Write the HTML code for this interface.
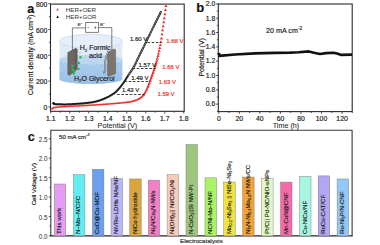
<!DOCTYPE html>
<html><head><meta charset="utf-8"><style>html,body{margin:0;padding:0;background:#fff;width:380px;height:245px;overflow:hidden}svg{display:block}</style></head>
<body><svg width="380" height="245" viewBox="0 0 380 245" font-family="Liberation Sans, sans-serif"><rect x="50.5" y="4.1" width="133.7" height="107.2" fill="none" stroke="#2a2a2a" stroke-width="1.1"/><line x1="50.80" y1="111.3" x2="50.80" y2="113.5" stroke="#222" stroke-width="0.8"/><line x1="60.30" y1="111.3" x2="60.30" y2="112.7" stroke="#222" stroke-width="0.8"/><line x1="69.79" y1="111.3" x2="69.79" y2="113.5" stroke="#222" stroke-width="0.8"/><line x1="79.28" y1="111.3" x2="79.28" y2="112.7" stroke="#222" stroke-width="0.8"/><line x1="88.78" y1="111.3" x2="88.78" y2="113.5" stroke="#222" stroke-width="0.8"/><line x1="98.28" y1="111.3" x2="98.28" y2="112.7" stroke="#222" stroke-width="0.8"/><line x1="107.77" y1="111.3" x2="107.77" y2="113.5" stroke="#222" stroke-width="0.8"/><line x1="117.27" y1="111.3" x2="117.27" y2="112.7" stroke="#222" stroke-width="0.8"/><line x1="126.76" y1="111.3" x2="126.76" y2="113.5" stroke="#222" stroke-width="0.8"/><line x1="136.25" y1="111.3" x2="136.25" y2="112.7" stroke="#222" stroke-width="0.8"/><line x1="145.75" y1="111.3" x2="145.75" y2="113.5" stroke="#222" stroke-width="0.8"/><line x1="155.25" y1="111.3" x2="155.25" y2="112.7" stroke="#222" stroke-width="0.8"/><line x1="164.74" y1="111.3" x2="164.74" y2="113.5" stroke="#222" stroke-width="0.8"/><line x1="174.23" y1="111.3" x2="174.23" y2="112.7" stroke="#222" stroke-width="0.8"/><line x1="183.73" y1="111.3" x2="183.73" y2="113.5" stroke="#222" stroke-width="0.8"/><text x="50.80" y="121.1" font-size="6.8" text-anchor="middle" fill="#222" stroke="#222" stroke-width="0.18" >1.1</text><text x="69.79" y="121.1" font-size="6.8" text-anchor="middle" fill="#222" stroke="#222" stroke-width="0.18" >1.2</text><text x="88.78" y="121.1" font-size="6.8" text-anchor="middle" fill="#222" stroke="#222" stroke-width="0.18" >1.3</text><text x="107.77" y="121.1" font-size="6.8" text-anchor="middle" fill="#222" stroke="#222" stroke-width="0.18" >1.4</text><text x="126.76" y="121.1" font-size="6.8" text-anchor="middle" fill="#222" stroke="#222" stroke-width="0.18" >1.5</text><text x="145.75" y="121.1" font-size="6.8" text-anchor="middle" fill="#222" stroke="#222" stroke-width="0.18" >1.6</text><text x="164.74" y="121.1" font-size="6.8" text-anchor="middle" fill="#222" stroke="#222" stroke-width="0.18" >1.7</text><text x="183.73" y="121.1" font-size="6.8" text-anchor="middle" fill="#222" stroke="#222" stroke-width="0.18" >1.8</text><line x1="50.5" y1="106.90" x2="48.3" y2="106.90" stroke="#222" stroke-width="0.8"/><line x1="50.5" y1="94.00" x2="49.1" y2="94.00" stroke="#222" stroke-width="0.8"/><line x1="50.5" y1="81.10" x2="48.3" y2="81.10" stroke="#222" stroke-width="0.8"/><line x1="50.5" y1="68.20" x2="49.1" y2="68.20" stroke="#222" stroke-width="0.8"/><line x1="50.5" y1="55.30" x2="48.3" y2="55.30" stroke="#222" stroke-width="0.8"/><line x1="50.5" y1="42.40" x2="49.1" y2="42.40" stroke="#222" stroke-width="0.8"/><line x1="50.5" y1="29.50" x2="48.3" y2="29.50" stroke="#222" stroke-width="0.8"/><line x1="50.5" y1="16.60" x2="49.1" y2="16.60" stroke="#222" stroke-width="0.8"/><line x1="50.5" y1="3.70" x2="48.3" y2="3.70" stroke="#222" stroke-width="0.8"/><text x="47.3" y="110.10" font-size="6.8" text-anchor="end" fill="#222" stroke="#222" stroke-width="0.18" >0</text><text x="47.3" y="84.30" font-size="6.8" text-anchor="end" fill="#222" stroke="#222" stroke-width="0.18" >200</text><text x="47.3" y="58.50" font-size="6.8" text-anchor="end" fill="#222" stroke="#222" stroke-width="0.18" >400</text><text x="47.3" y="32.70" font-size="6.8" text-anchor="end" fill="#222" stroke="#222" stroke-width="0.18" >600</text><text x="47.3" y="6.90" font-size="6.8" text-anchor="end" fill="#222" stroke="#222" stroke-width="0.18" >800</text><text x="117.4" y="127.6" font-size="7.2" text-anchor="middle" fill="#2a2a2a" stroke="#2a2a2a" stroke-width="0.08" >Potential (V)</text><text transform="translate(33.4,54.9) rotate(-90)" font-size="7.1" text-anchor="middle" fill="#222" stroke="#222" stroke-width="0.18" >Current density (mA cm<tspan font-size="4.6" dy="-2.5">-2</tspan><tspan dy="2.5">)</tspan></text><text x="27.3" y="12.8" font-size="12.5" text-anchor="start" fill="#111" stroke="#111" stroke-width="0.18" font-weight="bold">a</text><path d="M56.3,10.6 L57.6,8.3 L58.9,10.6 Z" fill="#f0302a"/><text x="65.8" y="11.8" font-size="6.2" fill="#333">HER+OER</text><path d="M56.3,17.9 L57.6,15.6 L58.9,17.9 Z" fill="#111"/><text x="65.8" y="19.1" font-size="6.2" fill="#333">HER+GOR</text><defs><linearGradient id="liq" x1="0" y1="0" x2="0" y2="1"><stop offset="0" stop-color="#accdee"/><stop offset="1" stop-color="#9bc1e8"/></linearGradient><linearGradient id="top" x1="0" y1="0" x2="0" y2="1"><stop offset="0" stop-color="#e2edf8"/><stop offset="1" stop-color="#d5e5f4"/></linearGradient></defs><path d="M59.50000000000001,41.3 L59.50000000000001,79.2 A31.4,4.8 0 0 0 122.30000000000001,79.2 L122.30000000000001,41.3 Z" fill="url(#top)"/><ellipse cx="90.9" cy="41.3" rx="31.4" ry="7.0" fill="#e6eff9" stroke="#c6daee" stroke-width="0.7"/><path d="M59.50000000000001,59.6 L59.50000000000001,79.2 A31.4,4.8 0 0 0 122.30000000000001,79.2 L122.30000000000001,59.6 A31.4,4.6 0 0 1 59.50000000000001,59.6 Z" fill="url(#liq)"/><ellipse cx="90.9" cy="59.6" rx="31.4" ry="4.6" fill="#bcd6f0"/><path d="M72.4,50 L72.4,27.9 L85.7,27.9 M98.6,27.6 L111.8,27.6 L111.8,50" fill="none" stroke="#555" stroke-width="0.75"/><rect x="85.7" y="22.6" width="12.9" height="9.7" fill="#fff" stroke="#555" stroke-width="0.75"/><path d="M87.3,27.6 h1.6 M94.2,27.6 h2.4 M95.4,26.4 v2.4" stroke="#444" stroke-width="0.6"/><text x="77.4" y="25.8" font-size="5.8" fill="#333" stroke="#333" stroke-width="0.1">e<tspan font-size="3.8" dy="-2.2">-</tspan></text><text x="100.1" y="25.8" font-size="5.8" fill="#333" stroke="#333" stroke-width="0.1">e<tspan font-size="3.8" dy="-2.2">-</tspan></text><path d="M67.8,52.6 L75.6,48.3 L77.3,49.2 L77.3,69.3 L69.6,75.3 L67.8,74.6 Z" fill="#6e6761" stroke="#4a4541" stroke-width="0.45"/><path d="M75.7,48.6 L75.7,69.8" fill="none" stroke="#4a4541" stroke-width="0.5"/><path d="M77,53.8 Q79.5,53.2 81,52.2" fill="none" stroke="#c9ced4" stroke-width="1.1"/><path d="M77,69.2 Q79.8,70.5 80.8,72.8" fill="none" stroke="#c9ced4" stroke-width="1.1"/><path d="M107.6,52.2 L114,49 L115.6,49.8 L115.6,73.5 L109.2,76.2 L107.6,75.4 Z" fill="#7d746c" stroke="#57504a" stroke-width="0.45"/><path d="M108.4,50.8 Q103.8,61 105.4,69.5 Q105,72 103.4,73.2" fill="none" stroke="#4e545c" stroke-width="1.7"/><path d="M108.4,50.8 Q103.8,61 105.4,69.5 Q105,72 103.4,73.2" fill="none" stroke="#c8d0d8" stroke-width="0.9"/><circle cx="80.4" cy="57.2" r="1.3" fill="#1dc25a"/><circle cx="78.9" cy="63.1" r="1.3" fill="#1dc25a"/><circle cx="72.3" cy="66.1" r="1.3" fill="#1dc25a"/><circle cx="78.5" cy="69" r="1.3" fill="#1dc25a"/><circle cx="73" cy="70" r="1.3" fill="#1dc25a"/><circle cx="73.8" cy="73.4" r="1.3" fill="#1dc25a"/><text x="79.7" y="50.1" font-size="7" text-anchor="start" fill="#222" stroke="#222" stroke-width="0.18" >H<tspan font-size="4.4" dy="1.5">2</tspan><tspan dy="-1.5"> Formic</tspan></text><text x="95.4" y="58.2" font-size="7" text-anchor="middle" fill="#222" stroke="#222" stroke-width="0.18" >acid</text><text x="74" y="80.7" font-size="7" text-anchor="start" fill="#222" stroke="#222" stroke-width="0.18" >H<tspan font-size="4.4" dy="1.5">2</tspan><tspan dy="-1.5">O Glycerol</tspan></text><path d="M50.32,109.78L51.43,107.84L52.54,109.78ZM50.88,109.43L52.00,107.48L53.12,109.43ZM51.46,109.06L52.57,107.12L53.68,109.06ZM52.05,108.72L53.14,106.82L54.23,108.72ZM52.66,108.46L53.71,106.62L54.76,108.46ZM53.25,108.32L54.28,106.52L55.31,108.32ZM53.83,108.22L54.85,106.43L55.87,108.22ZM54.40,108.13L55.42,106.34L56.44,108.13ZM54.97,108.05L55.99,106.27L57.01,108.05ZM55.55,107.97L56.56,106.20L57.57,107.97ZM56.12,107.91L57.13,106.14L58.14,107.91ZM56.69,107.85L57.70,106.08L58.71,107.85ZM57.26,107.80L58.27,106.03L59.28,107.80ZM57.83,107.75L58.84,105.98L59.85,107.75ZM58.40,107.70L59.41,105.94L60.42,107.70ZM58.97,107.66L59.98,105.90L60.99,107.66ZM59.54,107.61L60.55,105.85L61.56,107.61ZM60.11,107.57L61.12,105.81L62.13,107.57ZM60.68,107.53L61.69,105.77L62.70,107.53ZM61.26,107.49L62.26,105.74L63.26,107.49ZM61.83,107.46L62.83,105.70L63.83,107.46ZM62.40,107.42L63.40,105.66L64.40,107.42ZM62.97,107.39L63.97,105.63L64.97,107.39ZM63.54,107.35L64.54,105.60L65.54,107.35ZM64.11,107.32L65.11,105.56L66.11,107.32ZM64.68,107.28L65.68,105.53L66.68,107.28ZM65.25,107.25L66.25,105.50L67.25,107.25ZM65.82,107.22L66.82,105.47L67.82,107.22ZM66.39,107.19L67.39,105.44L68.39,107.19ZM66.96,107.16L67.96,105.41L68.96,107.16ZM67.53,107.13L68.53,105.38L69.53,107.13ZM68.10,107.10L69.10,105.35L70.10,107.10ZM68.67,107.07L69.67,105.32L70.67,107.07ZM69.24,107.05L70.24,105.29L71.24,107.05ZM69.81,107.02L70.81,105.27L71.81,107.02ZM70.38,106.99L71.38,105.24L72.38,106.99ZM70.95,106.96L71.95,105.21L72.95,106.96ZM71.52,106.93L72.52,105.18L73.52,106.93ZM72.09,106.91L73.09,105.15L74.09,106.91ZM72.66,106.88L73.66,105.13L74.66,106.88ZM73.23,106.85L74.23,105.10L75.23,106.85ZM73.80,106.82L74.80,105.07L75.80,106.82ZM74.37,106.80L75.37,105.04L76.37,106.80ZM74.94,106.77L75.94,105.01L76.94,106.77ZM75.51,106.74L76.51,104.99L77.51,106.74ZM76.08,106.71L77.08,104.96L78.08,106.71ZM76.65,106.68L77.65,104.93L78.65,106.68ZM77.22,106.65L78.22,104.90L79.22,106.65ZM77.79,106.62L78.79,104.87L79.79,106.62ZM78.36,106.59L79.36,104.83L80.36,106.59ZM78.93,106.56L79.93,104.80L80.93,106.56ZM79.50,106.52L80.50,104.77L81.50,106.52ZM80.07,106.49L81.07,104.74L82.07,106.49ZM80.64,106.46L81.64,104.70L82.64,106.46ZM81.21,106.43L82.21,104.67L83.21,106.43ZM81.78,106.39L82.78,104.64L83.78,106.39ZM82.35,106.36L83.35,104.61L84.35,106.36ZM82.92,106.33L83.92,104.57L84.92,106.33ZM83.49,106.30L84.49,104.54L85.49,106.30ZM84.06,106.26L85.06,104.51L86.06,106.26ZM84.63,106.23L85.63,104.48L86.63,106.23ZM85.20,106.20L86.20,104.44L87.20,106.20ZM85.77,106.17L86.77,104.41L87.77,106.17ZM86.34,106.13L87.34,104.38L88.34,106.13ZM86.91,106.10L87.91,104.35L88.91,106.10ZM87.48,106.07L88.48,104.31L89.48,106.07ZM88.05,106.04L89.05,104.28L90.05,106.04ZM88.62,106.00L89.62,104.25L90.62,106.00ZM89.19,105.97L90.19,104.21L91.19,105.97ZM89.76,105.94L90.76,104.18L91.76,105.94ZM90.33,105.90L91.33,104.15L92.33,105.90ZM90.90,105.87L91.90,104.11L92.90,105.87ZM91.47,105.83L92.47,104.08L93.47,105.83ZM92.04,105.80L93.04,104.04L94.04,105.80ZM92.61,105.77L93.61,104.01L94.61,105.77ZM93.18,105.73L94.18,103.97L95.18,105.73ZM93.75,105.70L94.75,103.94L95.75,105.70ZM94.32,105.66L95.32,103.90L96.32,105.66ZM94.89,105.62L95.89,103.87L96.89,105.62ZM95.46,105.59L96.46,103.83L97.46,105.59ZM96.03,105.55L97.03,103.79L98.03,105.55ZM96.60,105.51L97.60,103.76L98.60,105.51ZM97.17,105.48L98.17,103.72L99.17,105.48ZM97.74,105.44L98.74,103.68L99.74,105.44ZM98.31,105.40L99.31,103.64L100.31,105.40ZM98.87,105.36L99.88,103.60L100.89,105.36ZM99.44,105.32L100.45,103.56L101.46,105.32ZM100.01,105.28L101.02,103.52L102.03,105.28ZM100.58,105.24L101.59,103.48L102.60,105.24ZM101.15,105.20L102.16,103.44L103.17,105.20ZM101.72,105.16L102.73,103.40L103.74,105.16ZM102.29,105.12L103.30,103.36L104.31,105.12ZM102.86,105.08L103.87,103.32L104.88,105.08ZM103.43,105.04L104.44,103.28L105.45,105.04ZM104.00,105.00L105.01,103.24L106.02,105.00ZM104.57,104.96L105.58,103.20L106.59,104.96ZM105.14,104.92L106.15,103.16L107.16,104.92ZM105.71,104.88L106.72,103.11L107.73,104.88ZM106.28,104.83L107.29,103.07L108.30,104.83ZM106.85,104.79L107.86,103.03L108.87,104.79ZM107.42,104.75L108.43,102.98L109.44,104.75ZM107.99,104.70L109.00,102.94L110.01,104.70ZM108.56,104.66L109.57,102.90L110.58,104.66ZM109.13,104.61L110.14,102.85L111.15,104.61ZM109.70,104.57L110.71,102.80L111.72,104.57ZM110.27,104.52L111.28,102.76L112.29,104.52ZM110.84,104.48L111.85,102.71L112.86,104.48ZM111.41,104.43L112.42,102.67L113.43,104.43ZM111.98,104.38L112.99,102.62L114.00,104.38ZM112.55,104.33L113.56,102.57L114.57,104.33ZM113.12,104.29L114.13,102.52L115.14,104.29ZM113.69,104.24L114.70,102.47L115.71,104.24ZM114.26,104.19L115.27,102.42L116.28,104.19ZM114.83,104.14L115.84,102.37L116.85,104.14ZM115.40,104.09L116.41,102.32L117.42,104.09ZM115.97,104.04L116.98,102.27L117.99,104.04ZM116.54,103.99L117.55,102.22L118.56,103.99ZM117.11,103.93L118.12,102.17L119.13,103.93ZM117.68,103.88L118.69,102.11L119.70,103.88ZM118.25,103.83L119.26,102.06L120.27,103.83ZM118.82,103.77L119.83,102.01L120.84,103.77ZM119.39,103.72L120.40,101.95L121.41,103.72ZM119.96,103.66L120.97,101.90L121.98,103.66ZM120.53,103.61L121.54,101.84L122.55,103.61ZM121.10,103.55L122.11,101.79L123.12,103.55ZM121.67,103.50L122.68,101.73L123.69,103.50ZM122.24,103.44L123.25,101.67L124.26,103.44ZM122.81,103.38L123.82,101.61L124.83,103.38ZM123.38,103.32L124.39,101.55L125.40,103.32ZM123.95,103.26L124.96,101.49L125.97,103.26ZM124.52,103.19L125.53,101.42L126.54,103.19ZM125.08,103.13L126.10,101.35L127.12,103.13ZM125.65,103.06L126.67,101.28L127.69,103.06ZM126.22,102.98L127.24,101.20L128.26,102.98ZM126.79,102.90L127.81,101.12L128.83,102.90ZM127.36,102.82L128.38,101.04L129.40,102.82ZM127.93,102.74L128.95,100.95L129.97,102.74ZM128.50,102.65L129.52,100.86L130.54,102.65ZM129.06,102.55L130.09,100.76L131.12,102.55ZM129.63,102.45L130.66,100.65L131.69,102.45ZM130.20,102.33L131.23,100.52L132.26,102.33ZM130.76,102.21L131.80,100.39L132.84,102.21ZM131.33,102.06L132.37,100.24L133.41,102.06ZM131.89,101.91L132.94,100.08L133.99,101.91ZM132.46,101.75L133.51,99.91L134.56,101.75ZM133.03,101.57L134.08,99.72L135.13,101.57ZM133.59,101.38L134.65,99.53L135.71,101.38ZM134.16,101.18L135.22,99.33L136.28,101.18ZM134.73,100.98L135.79,99.11L136.85,100.98ZM135.29,100.76L136.36,98.89L137.43,100.76ZM135.86,100.53L136.93,98.66L138.00,100.53ZM136.42,100.29L137.50,98.40L138.58,100.29ZM136.98,100.02L138.07,98.11L139.16,100.02ZM137.54,99.71L138.64,97.78L139.74,99.71ZM138.10,99.37L139.21,97.42L140.32,99.37ZM138.66,99.00L139.78,97.03L140.90,99.00ZM139.22,98.60L140.35,96.61L141.48,98.60ZM139.78,98.17L140.92,96.17L142.06,98.17ZM140.34,97.71L141.49,95.69L142.64,97.71ZM140.89,97.22L142.06,95.17L143.23,97.22ZM141.42,96.66L142.63,94.54L143.84,96.66ZM141.95,95.97L143.20,93.79L144.45,95.97ZM142.49,95.19L143.77,92.95L145.05,95.19ZM143.05,94.32L144.34,92.06L145.63,94.32ZM143.61,93.42L144.91,91.14L146.21,93.42ZM144.16,92.49L145.48,90.17L146.80,92.49ZM144.70,91.48L146.05,89.12L147.40,91.48ZM145.24,90.40L146.62,87.99L148.00,90.40ZM145.79,89.24L147.19,86.79L148.59,89.24ZM146.34,88.01L147.76,85.52L149.18,88.01ZM146.87,86.71L148.33,84.15L149.79,86.71ZM147.39,85.27L148.90,82.63L150.41,85.27ZM147.93,83.71L149.47,81.02L151.01,83.71ZM148.49,82.08L150.04,79.36L151.59,82.08ZM149.06,80.41L150.61,77.70L152.16,80.41ZM149.65,78.77L151.18,76.08L152.71,78.77ZM150.23,77.18L151.75,74.52L153.27,77.18ZM150.81,75.63L152.32,72.99L153.83,75.63ZM151.38,74.10L152.89,71.46L154.40,74.10ZM151.93,72.55L153.46,69.88L154.99,72.55ZM152.48,70.96L154.03,68.24L155.58,70.96ZM153.03,69.27L154.60,66.53L156.17,69.27ZM153.60,67.51L155.17,64.77L156.74,67.51ZM154.17,65.68L155.74,62.94L157.31,65.68ZM154.74,63.74L156.31,60.99L157.88,63.74ZM155.31,61.64L156.88,58.90L158.45,61.64ZM155.88,59.38L157.45,56.63L159.02,59.38ZM156.45,56.99L158.02,54.25L159.59,56.99ZM157.02,54.47L158.59,51.73L160.16,54.47ZM157.59,51.82L159.16,49.08L160.73,51.82ZM158.16,49.03L159.73,46.28L161.30,49.03ZM158.73,46.08L160.30,43.34L161.87,46.08ZM159.30,42.98L160.87,40.24L162.44,42.98ZM159.87,39.39L161.44,36.64L163.01,39.39ZM160.44,35.37L162.01,32.63L163.58,35.37ZM161.01,31.31L162.58,28.57L164.15,31.31ZM161.58,27.34L163.15,24.60L164.72,27.34ZM162.15,23.31L163.72,20.57L165.29,23.31ZM162.72,19.25L164.29,16.50L165.86,19.25ZM163.29,15.15L164.86,12.40L166.43,15.15ZM163.86,11.01L165.43,8.27L167.00,11.01ZM164.43,6.88L166.00,4.13L167.57,6.88Z" fill="#f0302a"/><path d="M53.20,103.60 L53.45,103.66 L53.70,103.72 L53.95,103.79 L54.20,103.85 L54.45,103.92 L54.70,103.99 L54.95,104.05 L55.20,104.10 L55.45,104.14 L55.70,104.18 L55.95,104.20 L56.20,104.21 L56.45,104.22 L56.70,104.23 L56.95,104.24 L57.20,104.25 L57.45,104.25 L57.70,104.26 L57.95,104.27 L58.20,104.28 L58.45,104.29 L58.70,104.30 L58.95,104.30 L59.20,104.31 L59.45,104.32 L59.70,104.33 L59.95,104.33 L60.20,104.34 L60.45,104.34 L60.70,104.35 L60.95,104.36 L61.20,104.36 L61.45,104.37 L61.70,104.37 L61.95,104.37 L62.20,104.38 L62.45,104.38 L62.70,104.39 L62.95,104.39 L63.20,104.39 L63.45,104.39 L63.70,104.40 L63.95,104.40 L64.20,104.40 L64.45,104.40 L64.70,104.40 L64.95,104.40 L65.20,104.40 L65.45,104.40 L65.70,104.40 L65.95,104.39 L66.20,104.39 L66.45,104.39 L66.70,104.38 L66.95,104.38 L67.20,104.37 L67.45,104.37 L67.70,104.36 L67.95,104.35 L68.20,104.34 L68.45,104.34 L68.70,104.33 L68.95,104.32 L69.20,104.31 L69.45,104.30 L69.70,104.29 L69.95,104.27 L70.20,104.26 L70.45,104.25 L70.70,104.24 L70.95,104.22 L71.20,104.21 L71.45,104.20 L71.70,104.18 L71.95,104.17 L72.20,104.15 L72.45,104.14 L72.70,104.12 L72.95,104.11 L73.20,104.09 L73.45,104.07 L73.70,104.06 L73.95,104.04 L74.20,104.02 L74.45,104.00 L74.70,103.99 L74.95,103.97 L75.20,103.95 L75.45,103.93 L75.70,103.92 L75.95,103.90 L76.20,103.88 L76.45,103.86 L76.70,103.84 L76.95,103.82 L77.20,103.81 L77.45,103.79 L77.70,103.77 L77.95,103.75 L78.20,103.73 L78.45,103.71 L78.70,103.69 L78.95,103.68 L79.20,103.66 L79.45,103.64 L79.70,103.62 L79.95,103.60 L80.20,103.59 L80.45,103.57 L80.70,103.55 L80.95,103.53 L81.20,103.51 L81.45,103.49 L81.70,103.47 L81.95,103.45 L82.20,103.43 L82.45,103.41 L82.70,103.39 L82.95,103.37 L83.20,103.34 L83.45,103.32 L83.70,103.30 L83.95,103.27 L84.20,103.25 L84.45,103.23 L84.70,103.20 L84.95,103.18 L85.20,103.15 L85.45,103.13 L85.70,103.10 L85.95,103.07 L86.20,103.05 L86.45,103.02 L86.70,102.99 L86.95,102.96 L87.20,102.94 L87.45,102.91 L87.70,102.88 L87.95,102.85 L88.20,102.82 L88.45,102.79 L88.70,102.76 L88.95,102.72 L89.20,102.69 L89.45,102.66 L89.70,102.63 L89.95,102.59 L90.20,102.56 L90.45,102.52 L90.70,102.49 L90.95,102.45 L91.20,102.42 L91.45,102.38 L91.70,102.34 L91.95,102.31 L92.20,102.27 L92.45,102.23 L92.70,102.19 L92.95,102.14 L93.20,102.10 L93.45,102.05 L93.70,102.00 L93.95,101.95 L94.20,101.89 L94.45,101.84 L94.70,101.78 L94.95,101.72 L95.20,101.66 L95.45,101.60 L95.70,101.54 L95.95,101.48 L96.20,101.41 L96.45,101.35 L96.70,101.28 L96.95,101.21 L97.20,101.14 L97.45,101.07 L97.70,101.00 L97.95,100.93 L98.20,100.85 L98.45,100.78 L98.70,100.70 L98.95,100.63 L99.20,100.55 L99.45,100.47 L99.70,100.39 L99.95,100.32 L100.20,100.24 L100.45,100.15 L100.70,100.07 L100.95,99.98 L101.20,99.90 L101.45,99.81 L101.70,99.72 L101.95,99.62 L102.20,99.53 L102.45,99.43 L102.70,99.33 L102.95,99.23 L103.20,99.13 L103.45,99.02 L103.70,98.92 L103.95,98.81 L104.20,98.70 L104.45,98.59 L104.70,98.48 L104.95,98.37 L105.20,98.25 L105.45,98.14 L105.70,98.02 L105.95,97.90 L106.20,97.78 L106.45,97.66 L106.70,97.54 L106.95,97.42 L107.20,97.30 L107.45,97.17 L107.70,97.05 L107.95,96.93 L108.20,96.80 L108.45,96.67 L108.70,96.54 L108.95,96.42 L109.20,96.28 L109.45,96.15 L109.70,96.01 L109.95,95.88 L110.20,95.74 L110.45,95.60 L110.70,95.45 L110.95,95.31 L111.20,95.16 L111.45,95.01 L111.70,94.86 L111.95,94.70 L112.20,94.54 L112.45,94.38 L112.70,94.22 L112.95,94.05 L113.20,93.88 L113.45,93.71 L113.70,93.53 L113.95,93.36 L114.20,93.17 L114.45,92.99 L114.70,92.80 L114.95,92.61 L115.20,92.40 L115.45,92.19 L115.70,91.97 L115.95,91.75 L116.20,91.52 L116.45,91.28 L116.70,91.04 L116.95,90.79 L117.20,90.54 L117.45,90.28 L117.70,90.01 L117.95,89.75 L118.20,89.47 L118.45,89.20 L118.70,88.92 L118.95,88.64 L119.20,88.36 L119.45,88.07 L119.70,87.78 L119.95,87.49 L120.20,87.19 L120.45,86.88 L120.70,86.57 L120.95,86.25 L121.20,85.93 L121.45,85.60 L121.70,85.26 L121.95,84.93 L122.20,84.58 L122.45,84.24 L122.70,83.89 L122.95,83.53 L123.20,83.18 L123.45,82.82 L123.70,82.46 L123.95,82.10 L124.20,81.74 L124.45,81.37 L124.70,81.01 L124.95,80.63 L125.20,80.25 L125.45,79.86 L125.70,79.47 L125.95,79.07 L126.20,78.66 L126.45,78.26 L126.70,77.85 L126.95,77.44 L127.20,77.04 L127.45,76.63 L127.70,76.23 L127.95,75.82 L128.20,75.43 L128.45,75.03 L128.70,74.65 L128.95,74.27 L129.20,73.89 L129.45,73.52 L129.70,73.16 L129.95,72.80 L130.20,72.44 L130.45,72.08 L130.70,71.72 L130.95,71.36 L131.20,71.00 L131.45,70.63 L131.70,70.26 L131.95,69.89 L132.20,69.51 L132.45,69.12 L132.70,68.73 L132.95,68.33 L133.20,67.91 L133.45,67.49 L133.70,67.05 L133.95,66.60 L134.20,66.14 L134.45,65.67 L134.70,65.19 L134.95,64.70 L135.20,64.20 L135.45,63.70 L135.70,63.19 L135.95,62.67 L136.20,62.15 L136.45,61.63 L136.70,61.10 L136.95,60.57 L137.20,60.04 L137.45,59.50 L137.70,58.97 L137.95,58.44 L138.20,57.91 L138.45,57.38 L138.70,56.85 L138.95,56.33 L139.20,55.81 L139.45,55.30 L139.70,54.80 L139.95,54.30 L140.20,53.79 L140.45,53.29 L140.70,52.79 L140.95,52.30 L141.20,51.80 L141.45,51.30 L141.70,50.80 L141.95,50.31 L142.20,49.81 L142.45,49.31 L142.70,48.82 L142.95,48.32 L143.20,47.82 L143.45,47.33 L143.70,46.83 L143.95,46.33 L144.20,45.83 L144.45,45.32 L144.70,44.82 L144.95,44.32 L145.20,43.81 L145.45,43.30 L145.70,42.79 L145.95,42.28 L146.20,41.76 L146.45,41.25 L146.70,40.73 L146.95,40.21 L147.20,39.69 L147.45,39.16 L147.70,38.64 L147.95,38.12 L148.20,37.59 L148.45,37.07 L148.70,36.54 L148.95,36.02 L149.20,35.50 L149.45,34.98 L149.70,34.46 L149.95,33.94 L150.20,33.42 L150.45,32.91 L150.70,32.40 L150.95,31.88 L151.20,31.37 L151.45,30.87 L151.70,30.36 L151.95,29.85 L152.20,29.35 L152.45,28.84 L152.70,28.34 L152.95,27.83 L153.20,27.33 L153.45,26.83 L153.70,26.33 L153.95,25.82 L154.20,25.32 L154.45,24.82 L154.70,24.32 L154.95,23.81 L155.20,23.31 L155.45,22.81 L155.70,22.31 L155.95,21.80 L156.20,21.30 L156.45,20.79 L156.70,20.29 L156.95,19.78 L157.20,19.28 L157.45,18.77 L157.70,18.27 L157.95,17.76 L158.20,17.26 L158.45,16.75 L158.70,16.25 L158.95,15.74 L159.20,15.24 L159.45,14.73 L159.70,14.23 L159.95,13.72 L160.20,13.22 L160.45,12.71 L160.70,12.21 L160.95,11.70 L161.20,11.20" fill="none" stroke="#161616" stroke-width="2.0" stroke-linejoin="round"/><path d="M128.20,75.43 L128.45,75.03 L128.70,74.65 L128.95,74.27 L129.20,73.89 L129.45,73.52 L129.70,73.16 L129.95,72.80 L130.20,72.44 L130.45,72.08 L130.70,71.72 L130.95,71.36 L131.20,71.00 L131.45,70.63 L131.70,70.26 L131.95,69.89 L132.20,69.51 L132.45,69.12 L132.70,68.73 L132.95,68.33 L133.20,67.91 L133.45,67.49 L133.70,67.05 L133.95,66.60 L134.20,66.14 L134.45,65.67 L134.70,65.19 L134.95,64.70 L135.20,64.20 L135.45,63.70 L135.70,63.19 L135.95,62.67 L136.20,62.15 L136.45,61.63 L136.70,61.10 L136.95,60.57 L137.20,60.04 L137.45,59.50 L137.70,58.97 L137.95,58.44 L138.20,57.91 L138.45,57.38 L138.70,56.85 L138.95,56.33 L139.20,55.81 L139.45,55.30 L139.70,54.80 L139.95,54.30 L140.20,53.79 L140.45,53.29 L140.70,52.79 L140.95,52.30 L141.20,51.80 L141.45,51.30 L141.70,50.80 L141.95,50.31 L142.20,49.81 L142.45,49.31 L142.70,48.82 L142.95,48.32 L143.20,47.82 L143.45,47.33 L143.70,46.83 L143.95,46.33 L144.20,45.83 L144.45,45.32 L144.70,44.82 L144.95,44.32 L145.20,43.81 L145.45,43.30 L145.70,42.79 L145.95,42.28 L146.20,41.76 L146.45,41.25 L146.70,40.73 L146.95,40.21 L147.20,39.69 L147.45,39.16 L147.70,38.64 L147.95,38.12 L148.20,37.59 L148.45,37.07 L148.70,36.54 L148.95,36.02 L149.20,35.50 L149.45,34.98 L149.70,34.46 L149.95,33.94 L150.20,33.42 L150.45,32.91 L150.70,32.40 L150.95,31.88 L151.20,31.37 L151.45,30.87 L151.70,30.36 L151.95,29.85 L152.20,29.35 L152.45,28.84 L152.70,28.34 L152.95,27.83 L153.20,27.33 L153.45,26.83 L153.70,26.33 L153.95,25.82 L154.20,25.32 L154.45,24.82 L154.70,24.32 L154.95,23.81 L155.20,23.31 L155.45,22.81 L155.70,22.31 L155.95,21.80 L156.20,21.30 L156.45,20.79 L156.70,20.29 L156.95,19.78 L157.20,19.28 L157.45,18.77 L157.70,18.27 L157.95,17.76 L158.20,17.26 L158.45,16.75 L158.70,16.25 L158.95,15.74 L159.20,15.24 L159.45,14.73 L159.70,14.23 L159.95,13.72 L160.20,13.22 L160.45,12.71 L160.70,12.21 L160.95,11.70 L161.20,11.20" fill="none" stroke="#fff" stroke-width="0.9" stroke-dasharray="1.1 0.7" opacity="0.8"/><path d="M53.20,104.50 L53.45,104.56 L53.70,104.62 L53.95,104.69 L54.20,104.75 L54.45,104.82 L54.70,104.89 L54.95,104.95 L55.20,105.00 L55.45,105.04 L55.70,105.08 L55.95,105.10 L56.20,105.11 L56.45,105.12 L56.70,105.13 L56.95,105.14 L57.20,105.15 L57.45,105.15 L57.70,105.16 L57.95,105.17 L58.20,105.18 L58.45,105.19 L58.70,105.20 L58.95,105.20 L59.20,105.21 L59.45,105.22 L59.70,105.23 L59.95,105.23 L60.20,105.24 L60.45,105.24 L60.70,105.25 L60.95,105.26 L61.20,105.26 L61.45,105.27 L61.70,105.27 L61.95,105.27 L62.20,105.28 L62.45,105.28 L62.70,105.29 L62.95,105.29 L63.20,105.29 L63.45,105.29 L63.70,105.30 L63.95,105.30 L64.20,105.30 L64.45,105.30 L64.70,105.30 L64.95,105.30 L65.20,105.30 L65.45,105.30 L65.70,105.30 L65.95,105.29 L66.20,105.29 L66.45,105.29 L66.70,105.28 L66.95,105.28 L67.20,105.27 L67.45,105.27 L67.70,105.26 L67.95,105.25 L68.20,105.24 L68.45,105.24 L68.70,105.23 L68.95,105.22 L69.20,105.21 L69.45,105.20 L69.70,105.19 L69.95,105.17 L70.20,105.16 L70.45,105.15 L70.70,105.14 L70.95,105.12 L71.20,105.11 L71.45,105.10 L71.70,105.08 L71.95,105.07 L72.20,105.05 L72.45,105.04 L72.70,105.02 L72.95,105.01 L73.20,104.99 L73.45,104.97 L73.70,104.96 L73.95,104.94 L74.20,104.92 L74.45,104.90 L74.70,104.89 L74.95,104.87 L75.20,104.85 L75.45,104.83 L75.70,104.82 L75.95,104.80 L76.20,104.78 L76.45,104.76 L76.70,104.74 L76.95,104.72 L77.20,104.71 L77.45,104.69 L77.70,104.67 L77.95,104.65 L78.20,104.63 L78.45,104.61 L78.70,104.59 L78.95,104.58 L79.20,104.56 L79.45,104.54 L79.70,104.52 L79.95,104.50 L80.20,104.49 L80.45,104.47 L80.70,104.45 L80.95,104.43 L81.20,104.41 L81.45,104.39 L81.70,104.37 L81.95,104.35 L82.20,104.33 L82.45,104.31 L82.70,104.29 L82.95,104.27 L83.20,104.24 L83.45,104.22 L83.70,104.20 L83.95,104.17 L84.20,104.15 L84.45,104.13 L84.70,104.10 L84.95,104.08 L85.20,104.05 L85.45,104.03 L85.70,104.00 L85.95,103.97 L86.20,103.95 L86.45,103.92 L86.70,103.89 L86.95,103.86 L87.20,103.84 L87.45,103.81 L87.70,103.78 L87.95,103.75 L88.20,103.72 L88.45,103.69 L88.70,103.66 L88.95,103.62 L89.20,103.59 L89.45,103.56 L89.70,103.53 L89.95,103.49 L90.20,103.46 L90.45,103.42 L90.70,103.39 L90.95,103.35 L91.20,103.32 L91.45,103.28 L91.70,103.24 L91.95,103.21 L92.20,103.17 L92.45,103.13 L92.70,103.09 L92.95,103.04 L93.20,103.00 L93.45,102.95 L93.70,102.90 L93.95,102.85 L94.20,102.79 L94.45,102.74 L94.70,102.68 L94.95,102.62 L95.20,102.56 L95.45,102.50 L95.70,102.44 L95.95,102.38 L96.20,102.31 L96.45,102.25 L96.70,102.18 L96.95,102.11 L97.20,102.04 L97.45,101.97 L97.70,101.90 L97.95,101.83 L98.20,101.75 L98.45,101.68 L98.70,101.60 L98.95,101.53 L99.20,101.45 L99.45,101.37 L99.70,101.29 L99.95,101.22 L100.20,101.14 L100.45,101.05 L100.70,100.97 L100.95,100.88 L101.20,100.80 L101.45,100.71 L101.70,100.62 L101.95,100.52 L102.20,100.43 L102.45,100.33 L102.70,100.23 L102.95,100.13 L103.20,100.03 L103.45,99.92 L103.70,99.82 L103.95,99.71 L104.20,99.60 L104.45,99.49 L104.70,99.38 L104.95,99.27 L105.20,99.15 L105.45,99.04 L105.70,98.92 L105.95,98.80 L106.20,98.68 L106.45,98.56 L106.70,98.44 L106.95,98.32 L107.20,98.20 L107.45,98.07 L107.70,97.95 L107.95,97.83 L108.20,97.70 L108.45,97.57 L108.70,97.44 L108.95,97.32 L109.20,97.18 L109.45,97.05 L109.70,96.91 L109.95,96.78 L110.20,96.64 L110.45,96.50 L110.70,96.35 L110.95,96.21 L111.20,96.06 L111.45,95.91 L111.70,95.76 L111.95,95.60 L112.20,95.44 L112.45,95.28 L112.70,95.12 L112.95,94.95 L113.20,94.78 L113.45,94.61 L113.70,94.43 L113.95,94.26 L114.20,94.07 L114.45,93.89 L114.70,93.70 L114.95,93.51 L115.20,93.30 L115.45,93.09 L115.70,92.87 L115.95,92.65 L116.20,92.42 L116.45,92.18 L116.70,91.94 L116.95,91.69 L117.20,91.44 L117.45,91.18 L117.70,90.91 L117.95,90.65 L118.20,90.37 L118.45,90.10 L118.70,89.82 L118.95,89.54 L119.20,89.26 L119.45,88.97 L119.70,88.68 L119.95,88.39 L120.20,88.09 L120.45,87.78 L120.70,87.47 L120.95,87.15 L121.20,86.83 L121.45,86.50 L121.70,86.16 L121.95,85.83 L122.20,85.48 L122.45,85.14 L122.70,84.79 L122.95,84.43 L123.20,84.08 L123.45,83.72 L123.70,83.36 L123.95,83.00 L124.20,82.64 L124.45,82.27 L124.70,81.91 L124.95,81.53 L125.20,81.15 L125.45,80.76 L125.70,80.37 L125.95,79.97 L126.20,79.56 L126.45,79.16 L126.70,78.75 L126.95,78.34 L127.20,77.94 L127.45,77.53 L127.70,77.13 L127.95,76.72" fill="none" stroke="#777" stroke-width="0.7" opacity="0.6"/><circle cx="53.6" cy="103.3" r="1.3" fill="#111"/><line x1="147.5" y1="42.5" x2="161" y2="42.5" stroke="#2a2a2a" stroke-width="0.9" stroke-dasharray="2.6 1.6"/><line x1="132.5" y1="68.5" x2="155.5" y2="68.5" stroke="#2a2a2a" stroke-width="0.9" stroke-dasharray="2.6 1.6"/><line x1="124.5" y1="81.5" x2="150.4" y2="81.5" stroke="#2a2a2a" stroke-width="0.9" stroke-dasharray="2.6 1.6"/><line x1="117.1" y1="94.5" x2="145.3" y2="94.5" stroke="#2a2a2a" stroke-width="0.9" stroke-dasharray="2.6 1.6"/><text x="130" y="40.5" font-size="6.0" text-anchor="start" fill="#222" stroke="#222" stroke-width="0.18" >1.60 V</text><text x="138.6" y="66.5" font-size="6.0" text-anchor="start" fill="#222" stroke="#222" stroke-width="0.18" >1.57 V</text><text x="131.2" y="79.7" font-size="6.0" text-anchor="start" fill="#222" stroke="#222" stroke-width="0.18" >1.49 V</text><text x="122" y="91.7" font-size="6.0" text-anchor="start" fill="#222" stroke="#222" stroke-width="0.18" >1.43 V</text><text x="166.3" y="42.6" font-size="5.9" text-anchor="start" fill="#ee3a32" stroke="#ee3a32" stroke-width="0.22" >1.68 V</text><text x="162.3" y="68.7" font-size="5.9" text-anchor="start" fill="#ee3a32" stroke="#ee3a32" stroke-width="0.22" >1.66 V</text><text x="158.8" y="83.6" font-size="5.9" text-anchor="start" fill="#ee3a32" stroke="#ee3a32" stroke-width="0.22" >1.63 V</text><text x="157.5" y="95.5" font-size="5.9" text-anchor="start" fill="#ee3a32" stroke="#ee3a32" stroke-width="0.22" >1.59 V</text><rect x="218.3" y="4.0" width="133.89999999999998" height="107.6" fill="none" stroke="#2a2a2a" stroke-width="1.1"/><line x1="218.80" y1="111.6" x2="218.80" y2="113.8" stroke="#222" stroke-width="0.8"/><line x1="229.07" y1="111.6" x2="229.07" y2="113.0" stroke="#222" stroke-width="0.8"/><line x1="239.34" y1="111.6" x2="239.34" y2="113.8" stroke="#222" stroke-width="0.8"/><line x1="249.61" y1="111.6" x2="249.61" y2="113.0" stroke="#222" stroke-width="0.8"/><line x1="259.88" y1="111.6" x2="259.88" y2="113.8" stroke="#222" stroke-width="0.8"/><line x1="270.15" y1="111.6" x2="270.15" y2="113.0" stroke="#222" stroke-width="0.8"/><line x1="280.42" y1="111.6" x2="280.42" y2="113.8" stroke="#222" stroke-width="0.8"/><line x1="290.69" y1="111.6" x2="290.69" y2="113.0" stroke="#222" stroke-width="0.8"/><line x1="300.96" y1="111.6" x2="300.96" y2="113.8" stroke="#222" stroke-width="0.8"/><line x1="311.23" y1="111.6" x2="311.23" y2="113.0" stroke="#222" stroke-width="0.8"/><line x1="321.50" y1="111.6" x2="321.50" y2="113.8" stroke="#222" stroke-width="0.8"/><line x1="331.77" y1="111.6" x2="331.77" y2="113.0" stroke="#222" stroke-width="0.8"/><line x1="342.04" y1="111.6" x2="342.04" y2="113.8" stroke="#222" stroke-width="0.8"/><line x1="352.31" y1="111.6" x2="352.31" y2="113.0" stroke="#222" stroke-width="0.8"/><text x="218.80" y="120.9" font-size="6.8" text-anchor="middle" fill="#222" stroke="#222" stroke-width="0.18" >0</text><text x="239.34" y="120.9" font-size="6.8" text-anchor="middle" fill="#222" stroke="#222" stroke-width="0.18" >20</text><text x="259.88" y="120.9" font-size="6.8" text-anchor="middle" fill="#222" stroke="#222" stroke-width="0.18" >40</text><text x="280.42" y="120.9" font-size="6.8" text-anchor="middle" fill="#222" stroke="#222" stroke-width="0.18" >60</text><text x="300.96" y="120.9" font-size="6.8" text-anchor="middle" fill="#222" stroke="#222" stroke-width="0.18" >80</text><text x="321.50" y="120.9" font-size="6.8" text-anchor="middle" fill="#222" stroke="#222" stroke-width="0.18" >100</text><text x="342.04" y="120.9" font-size="6.8" text-anchor="middle" fill="#222" stroke="#222" stroke-width="0.18" >120</text><line x1="218.3" y1="111.30" x2="216.9" y2="111.30" stroke="#222" stroke-width="0.8"/><line x1="218.3" y1="104.14" x2="216.10000000000002" y2="104.14" stroke="#222" stroke-width="0.8"/><line x1="218.3" y1="96.98" x2="216.9" y2="96.98" stroke="#222" stroke-width="0.8"/><line x1="218.3" y1="89.82" x2="216.10000000000002" y2="89.82" stroke="#222" stroke-width="0.8"/><line x1="218.3" y1="82.66" x2="216.9" y2="82.66" stroke="#222" stroke-width="0.8"/><line x1="218.3" y1="75.50" x2="216.10000000000002" y2="75.50" stroke="#222" stroke-width="0.8"/><line x1="218.3" y1="68.34" x2="216.9" y2="68.34" stroke="#222" stroke-width="0.8"/><line x1="218.3" y1="61.18" x2="216.10000000000002" y2="61.18" stroke="#222" stroke-width="0.8"/><line x1="218.3" y1="54.02" x2="216.9" y2="54.02" stroke="#222" stroke-width="0.8"/><line x1="218.3" y1="46.86" x2="216.10000000000002" y2="46.86" stroke="#222" stroke-width="0.8"/><line x1="218.3" y1="39.70" x2="216.9" y2="39.70" stroke="#222" stroke-width="0.8"/><line x1="218.3" y1="32.54" x2="216.10000000000002" y2="32.54" stroke="#222" stroke-width="0.8"/><line x1="218.3" y1="25.38" x2="216.9" y2="25.38" stroke="#222" stroke-width="0.8"/><line x1="218.3" y1="18.22" x2="216.10000000000002" y2="18.22" stroke="#222" stroke-width="0.8"/><line x1="218.3" y1="11.06" x2="216.9" y2="11.06" stroke="#222" stroke-width="0.8"/><line x1="218.3" y1="3.90" x2="216.10000000000002" y2="3.90" stroke="#222" stroke-width="0.8"/><text x="215.2" y="106.44" font-size="6.8" text-anchor="end" fill="#222" stroke="#222" stroke-width="0.18" >0.6</text><text x="215.2" y="92.12" font-size="6.8" text-anchor="end" fill="#222" stroke="#222" stroke-width="0.18" >0.8</text><text x="215.2" y="77.80" font-size="6.8" text-anchor="end" fill="#222" stroke="#222" stroke-width="0.18" >1.0</text><text x="215.2" y="63.48" font-size="6.8" text-anchor="end" fill="#222" stroke="#222" stroke-width="0.18" >1.2</text><text x="215.2" y="49.16" font-size="6.8" text-anchor="end" fill="#222" stroke="#222" stroke-width="0.18" >1.4</text><text x="215.2" y="34.84" font-size="6.8" text-anchor="end" fill="#222" stroke="#222" stroke-width="0.18" >1.6</text><text x="215.2" y="20.52" font-size="6.8" text-anchor="end" fill="#222" stroke="#222" stroke-width="0.18" >1.8</text><text x="215.2" y="6.20" font-size="6.8" text-anchor="end" fill="#222" stroke="#222" stroke-width="0.18" >2.0</text><text x="286.0" y="127.5" font-size="7.2" text-anchor="middle" fill="#2a2a2a" stroke="#2a2a2a" stroke-width="0.08" >Time (h)</text><text transform="translate(203.6,57.3) rotate(-90)" font-size="7" text-anchor="middle" fill="#222" stroke="#222" stroke-width="0.18" >Potential (V)</text><text x="196.3" y="12.1" font-size="13" text-anchor="start" fill="#111" stroke="#111" stroke-width="0.18" font-weight="bold">b</text><text x="266.0" y="32.6" font-size="7.2" text-anchor="start" fill="#222" stroke="#222" stroke-width="0.18" >20 mA cm<tspan font-size="4.8" dy="-2.6">-2</tspan></text><path d="M219,53 L219.5,56 L219.5,56.0 L222,55.6 L235,54.5 L255,53.4 L275,52.9 L290,52.6 L298.6,52.2 L308.8,51.4 L314,52.8 L320,54 L326,53.1 L333.6,52.8 L337,53.6 L341.3,54.9 L352,54.6" fill="none" stroke="#111" stroke-width="2.6" stroke-linejoin="round"/><path d="M50.8,235.9 L50.8,130.3 L352.1,130.3 L352.1,235.9" fill="none" stroke="#3a3a3a" stroke-width="1.1"/><line x1="50.3" y1="235.9" x2="352.6" y2="235.9" stroke="#222" stroke-width="1.1"/><line x1="50.8" y1="235.80" x2="48.8" y2="235.80" stroke="#222" stroke-width="0.8"/><line x1="50.8" y1="226.10" x2="49.5" y2="226.10" stroke="#222" stroke-width="0.8"/><line x1="50.8" y1="216.40" x2="48.8" y2="216.40" stroke="#222" stroke-width="0.8"/><line x1="50.8" y1="206.70" x2="49.5" y2="206.70" stroke="#222" stroke-width="0.8"/><line x1="50.8" y1="197.00" x2="48.8" y2="197.00" stroke="#222" stroke-width="0.8"/><line x1="50.8" y1="187.30" x2="49.5" y2="187.30" stroke="#222" stroke-width="0.8"/><line x1="50.8" y1="177.60" x2="48.8" y2="177.60" stroke="#222" stroke-width="0.8"/><line x1="50.8" y1="167.90" x2="49.5" y2="167.90" stroke="#222" stroke-width="0.8"/><line x1="50.8" y1="158.20" x2="48.8" y2="158.20" stroke="#222" stroke-width="0.8"/><line x1="50.8" y1="148.50" x2="49.5" y2="148.50" stroke="#222" stroke-width="0.8"/><line x1="50.8" y1="138.80" x2="48.8" y2="138.80" stroke="#222" stroke-width="0.8"/><text x="47.6" y="238.90" font-size="6.3" text-anchor="end" fill="#2a2a2a">0.0</text><text x="47.6" y="219.50" font-size="6.3" text-anchor="end" fill="#2a2a2a">0.5</text><text x="47.6" y="200.10" font-size="6.3" text-anchor="end" fill="#2a2a2a">1.0</text><text x="47.6" y="180.70" font-size="6.3" text-anchor="end" fill="#2a2a2a">1.5</text><text x="47.6" y="161.30" font-size="6.3" text-anchor="end" fill="#2a2a2a">2.0</text><text x="47.6" y="141.90" font-size="6.3" text-anchor="end" fill="#2a2a2a">2.5</text><text transform="translate(36.4,184.2) rotate(-90)" font-size="6.1" text-anchor="middle" fill="#222" stroke="#222" stroke-width="0.18" >Cell Voltage (V)</text><text x="201.4" y="243.3" font-size="6.1" text-anchor="middle" fill="#333" stroke="#333" stroke-width="0.18" >Electrocatalysts</text><text x="27.7" y="140.6" font-size="12.5" text-anchor="start" fill="#111" stroke="#111" stroke-width="0.18" font-weight="bold">c</text><text x="59" y="138.5" font-size="6.1" text-anchor="start" fill="#222" stroke="#222" stroke-width="0.18" >50 mA cm<tspan font-size="4.2" dy="-2.3">-2</tspan></text><rect x="54.2" y="184.02" width="11.5" height="51.88" fill="#e59cf2" stroke="#7a7a7a" stroke-width="0.45"/><text transform="translate(61.25,234.0) rotate(-90)" font-size="6.1" fill="#1a1a1a" stroke="#1a1a1a" stroke-width="0.14">This work</text><rect x="73.4" y="174.71" width="11.5" height="61.19" fill="#62eef0" stroke="#7a7a7a" stroke-width="0.45"/><text transform="translate(80.45,234.0) rotate(-90)" font-size="6.1" fill="#1a1a1a" stroke="#1a1a1a" stroke-width="0.14">N–Mo–N/CFC</text><rect x="92.4" y="169.28" width="11.5" height="66.62" fill="#6b9ff0" stroke="#7a7a7a" stroke-width="0.45"/><text transform="translate(99.45,234.0) rotate(-90)" font-size="6.1" fill="#1a1a1a" stroke="#1a1a1a" stroke-width="0.14">CuO@Co-MOF</text><rect x="111" y="178.59" width="11.5" height="57.31" fill="#bcb6f4" stroke="#7a7a7a" stroke-width="0.45"/><text transform="translate(118.05,234.0) rotate(-90)" font-size="6.1" fill="#1a1a1a" stroke="#1a1a1a" stroke-width="0.14">NiVRu-LDHs NAs/NF</text><rect x="129.7" y="178.98" width="11.5" height="56.92" fill="#d9a53c" stroke="#7a7a7a" stroke-width="0.45"/><text transform="translate(136.75,234.0) rotate(-90)" font-size="6.1" fill="#1a1a1a" stroke="#1a1a1a" stroke-width="0.14">NiCo hydroxide</text><rect x="148.2" y="180.14" width="11.5" height="55.76" fill="#f37fc6" stroke="#7a7a7a" stroke-width="0.45"/><text transform="translate(155.25,234.0) rotate(-90)" font-size="6.1" fill="#1a1a1a" stroke="#1a1a1a" stroke-width="0.14">Ni<tspan font-size="3.9" dy="1">3</tspan><tspan dy="-1">N/Co<tspan font-size="3.9" dy="1">3</tspan><tspan dy="-1">N-NWs</tspan></tspan></text><rect x="167.1" y="174.71" width="11.5" height="61.19" fill="#f8cbbd" stroke="#7a7a7a" stroke-width="0.45"/><text transform="translate(174.15,234.0) rotate(-90)" font-size="6.1" fill="#1a1a1a" stroke="#1a1a1a" stroke-width="0.14">Ni(OH)<tspan font-size="3.9" dy="1">2</tspan><tspan dy="-1">|| Ni/C/O<tspan font-size="3.9" dy="1">2</tspan><tspan dy="-1">/Ni</tspan></tspan></text><rect x="186" y="144.44" width="11.5" height="91.46" fill="#9ec67e" stroke="#7a7a7a" stroke-width="0.45"/><text transform="translate(193.05,234.0) rotate(-90)" font-size="6.1" fill="#1a1a1a" stroke="#1a1a1a" stroke-width="0.14">N-CoO<tspan font-size="3.9" dy="1">2</tspan><tspan dy="-1">||Si NW-Pt</tspan></text><rect x="205" y="177.81" width="11.5" height="58.09" fill="#abf466" stroke="#7a7a7a" stroke-width="0.45"/><text transform="translate(212.05,234.0) rotate(-90)" font-size="6.1" fill="#1a1a1a" stroke="#1a1a1a" stroke-width="0.14">NC/Ni-Mo-N/NF</text><rect x="223.7" y="182.08" width="11.5" height="53.82" fill="#f2e43a" stroke="#7a7a7a" stroke-width="0.45"/><text transform="translate(230.75,234.0) rotate(-90)" font-size="6.1" fill="#1a1a1a" stroke="#1a1a1a" stroke-width="0.14">Mo<tspan font-size="3.9" dy="1">0.1</tspan><tspan dy="-1">-Ni<tspan font-size="3.9" dy="1">3</tspan><tspan dy="-1">Se<tspan font-size="3.9" dy="1">2</tspan><tspan dy="-1"> || NiSe-Ni<tspan font-size="3.9" dy="1">3</tspan><tspan dy="-1">Se<tspan font-size="3.9" dy="1">2</tspan><tspan dy="-1"></tspan></tspan></tspan></tspan></tspan></text><rect x="242.6" y="177.04" width="11.5" height="58.86" fill="#f2a236" stroke="#7a7a7a" stroke-width="0.45"/><text transform="translate(249.65,234.0) rotate(-90)" font-size="6.1" fill="#1a1a1a" stroke="#1a1a1a" stroke-width="0.14">Ni<tspan font-size="3.9" dy="1">3</tspan><tspan dy="-1">N-Ni<tspan font-size="3.9" dy="1">0.2</tspan><tspan dy="-1">Mo<tspan font-size="3.9" dy="1">0.8</tspan><tspan dy="-1">N NWs/CC</tspan></tspan></tspan></text><rect x="261.6" y="178.59" width="11.5" height="57.31" fill="#e3f8c6" stroke="#7a7a7a" stroke-width="0.45"/><text transform="translate(268.65,234.0) rotate(-90)" font-size="6.1" fill="#1a1a1a" stroke="#1a1a1a" stroke-width="0.14">Pt/C|| Pd-NC/NiO-uNPs</text><rect x="280.5" y="182.08" width="11.5" height="53.82" fill="#f66aa8" stroke="#7a7a7a" stroke-width="0.45"/><text transform="translate(287.55,234.0) rotate(-90)" font-size="6.1" fill="#1a1a1a" stroke="#1a1a1a" stroke-width="0.14">Mn-CoN@CNF</text><rect x="299.5" y="176.26" width="11.5" height="59.64" fill="#a6f7e2" stroke="#7a7a7a" stroke-width="0.45"/><text transform="translate(306.55,234.0) rotate(-90)" font-size="6.1" fill="#1a1a1a" stroke="#1a1a1a" stroke-width="0.14">Cu-NiCo/NF</text><rect x="318.2" y="175.87" width="11.5" height="60.03" fill="#b2a6f2" stroke="#7a7a7a" stroke-width="0.45"/><text transform="translate(325.25,234.0) rotate(-90)" font-size="6.1" fill="#1a1a1a" stroke="#1a1a1a" stroke-width="0.14">RuCu-CAT/CF</text><rect x="337.1" y="178.98" width="11.5" height="56.92" fill="#93c8f6" stroke="#7a7a7a" stroke-width="0.45"/><text transform="translate(344.15,234.0) rotate(-90)" font-size="6.1" fill="#1a1a1a" stroke="#1a1a1a" stroke-width="0.14">Ru-Ni<tspan font-size="3.9" dy="1">2</tspan><tspan dy="-1">P/N-CNF</tspan></text></svg></body></html>
